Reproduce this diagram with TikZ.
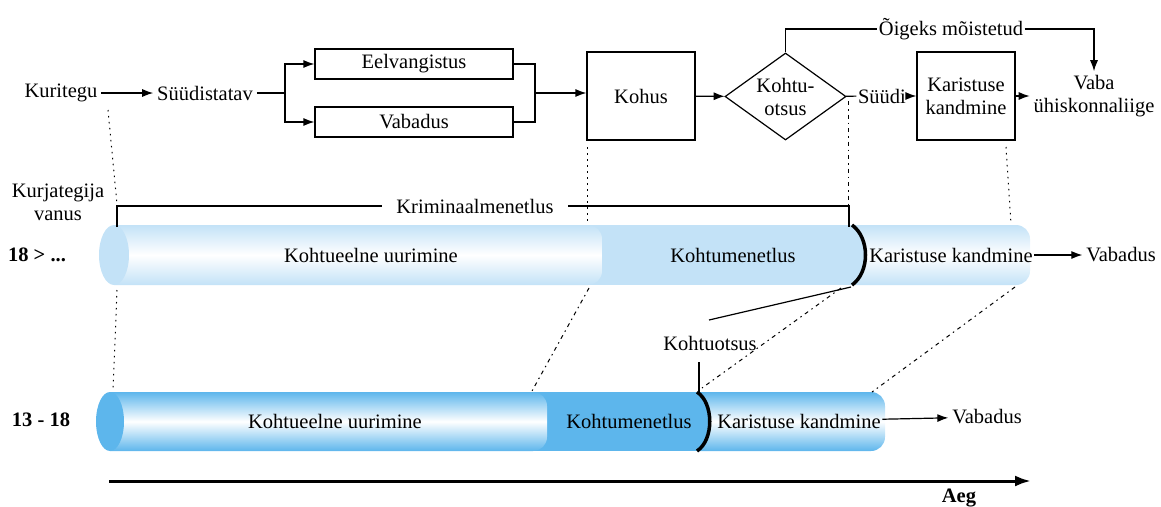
\documentclass[tikz,border=0pt]{standalone}
\usepackage{fontspec}
\setmainfont{Liberation Serif}
\usetikzlibrary{shapes.geometric,arrows.meta}
\definecolor{lightcyl}{HTML}{C3E2F7}
\definecolor{darkcyl}{HTML}{5DB6EC}
\tikzset{
  box/.style={draw,inner sep=0pt},
  arr/.style={-{Latex[length=11pt,width=8pt]}},
  dots/.style={line width=1pt,dash pattern=on 1.5pt off 4.5pt},
  dashdots/.style={line width=1pt,dash pattern=on 4pt off 4pt on 1.5pt off 4pt},
  bracket/.style={line width=3.5pt},
  cylshade/.style={top color=#1,bottom color=#1,middle color=white}
}
\begin{document}
\begin{tikzpicture}[x=1pt,y=-1pt,font=\fontsize{20.5}{23}\selectfont,line width=1.2pt]
\useasboundingbox (0,0) rectangle (1161,506);
\fill[lightcyl] (590,225) rectangle (870,285);
\shade[cylshade=lightcyl,rounded corners=14pt] (114,225) -| (602,285) -- (114,285);
\shade[cylshade=lightcyl] (852,285) .. controls (870,272) and (870,238) .. (852,225) [rounded corners=14pt] -| (1030,285) -- (852,285);
\draw[bracket] (852,225) .. controls (870,238) and (870,272) .. (852,285);
\fill[lightcyl] (114,255) ellipse [x radius=15pt, y radius=30pt];
\fill[darkcyl] (535,392) rectangle (712,451);
\shade[cylshade=darkcyl,rounded corners=14pt] (110,392) -| (547,451) -- (110,451);
\shade[cylshade=darkcyl] (697,451) .. controls (714,440) and (714,403) .. (697,392) [rounded corners=14pt] -| (885,451) -- (697,451);
\draw[bracket] (697,392) .. controls (714,403) and (714,440) .. (697,451);
\fill[darkcyl] (110,421.5) ellipse [x radius=14pt, y radius=29.5pt];
\node (KT) at (61,93) {Kuritegu};
\node (SD) at (205,93) {Süüdistatav};
\node[box,minimum width=198pt,minimum height=30pt] (EV) at (414,64) {Eelvangistus};
\node[box,minimum width=198pt,minimum height=30pt] (VA) at (414,122) {Vabadus};
\node[box,minimum width=108pt,minimum height=88pt] (KO) at (641,96) {Kohus};
\node[box,diamond,aspect=1.4,minimum width=121pt,minimum height=87pt,align=center] (OT) at (785.5,96.5) {Kohtu-\\otsus};
\node[inner sep=1pt] (SU) at (882,96) {Süüdi};
\node[box,minimum width=98pt,minimum height=88pt,align=center] (KK) at (966,96) {Karistuse\\kandmine};
\node[align=center] (VU) at (1094,96) {Vaba\\ühiskonnaliige};
\node[fill=white,inner sep=1pt] (OM) at (951,29) {Õigeks mõistetud};
\coordinate (J1) at (285,93);
\coordinate (J2) at (535,93);
\draw[arr] (KT) -- (SD);
\draw (SD) -- (J1);
\draw[arr] (J1) |- (EV);
\draw[arr] (J1) |- (VA);
\draw (EV.east) -| (J2) |- (VA.east);
\draw[arr] (J2) -- (J2 -| KO.west);
\draw[arr] (KO) -- (OT);
\draw (OT) -- (SU);
\draw[arr] (SU) -- (KK);
\draw[arr] (KK) -- (VU);
\draw (OT.north) |- (OM.west);
\draw[arr] (OM.east) -| (VU.north);
\node[align=center] (KV) at (58,202) {Kurjategija\\vanus};
\node (A1) at (37,255) {\textbf{18 > ...}};
\node (A2) at (41,420) {\textbf{13 - 18}};
\node[fill=white,inner xsep=14pt,inner ysep=2pt] (KR) at (475,206) {Kriminaalmenetlus};
\coordinate (C1) at (117,227);
\coordinate (C2) at (849,227);
\draw (C1) |- (KR.west);
\draw (KR.east) -| (C2);
\node (KU1) at (371,255) {Kohtueelne uurimine};
\node (KM1) at (733,255) {Kohtumenetlus};
\node[inner sep=1pt] (KA1) at (951,255) {Karistuse kandmine};
\node (VB1) at (1121,255) {Vabadus};
\draw[arr] (KA1) -- (VB1);
\node (KU2) at (335,421) {Kohtueelne uurimine};
\node (KM2) at (629,421) {Kohtumenetlus};
\node[inner sep=1pt] (KA2) at (799,421) {Karistuse kandmine};
\node (VB2) at (987,417) {Vabadus};
\draw[arr] (KA2) -- (VB2);
\node (KS) at (710,343) {Kohtuotsus};
\coordinate (B1) at (851,287);
\coordinate (B2) at (709,320);
\coordinate (B3) at (699,362);
\coordinate (B4) at (699,392);
\draw (B1) -- (B2);
\draw (B3) -- (B4);
\coordinate (D1a) at (108,110);
\coordinate (D1b) at (117,204);
\coordinate (D2a) at (587,147);
\coordinate (D2b) at (587,224);
\coordinate (D3a) at (848,101);
\coordinate (D3b) at (848,205);
\coordinate (D4a) at (1006,147);
\coordinate (D4b) at (1011,224);
\coordinate (D5a) at (117,290);
\coordinate (D5b) at (113,390);
\coordinate (D6a) at (589,288);
\coordinate (D6b) at (532,391);
\coordinate (D7a) at (841,288);
\coordinate (D7b) at (702,388);
\coordinate (D8a) at (1015,287);
\coordinate (D8b) at (872,392);
\draw[dots] (D1a) -- (D1b);
\draw[dots] (D2a) -- (D2b);
\draw[dashdots] (D3a) -- (D3b);
\draw[dots] (D4a) -- (D4b);
\draw[dots] (D5a) -- (D5b);
\draw[dashdots] (D6a) -- (D6b);
\draw[dashdots] (D7a) -- (D7b);
\draw[dashdots] (D8a) -- (D8b);
\coordinate (T0) at (109,481);
\coordinate (T1) at (1031,481);
\draw[line width=3pt,-{Latex[length=16pt,width=11pt]}] (T0) -- (T1);
\node (AE) at (959,498) {\textbf{Aeg}};
\end{tikzpicture}
\end{document}
